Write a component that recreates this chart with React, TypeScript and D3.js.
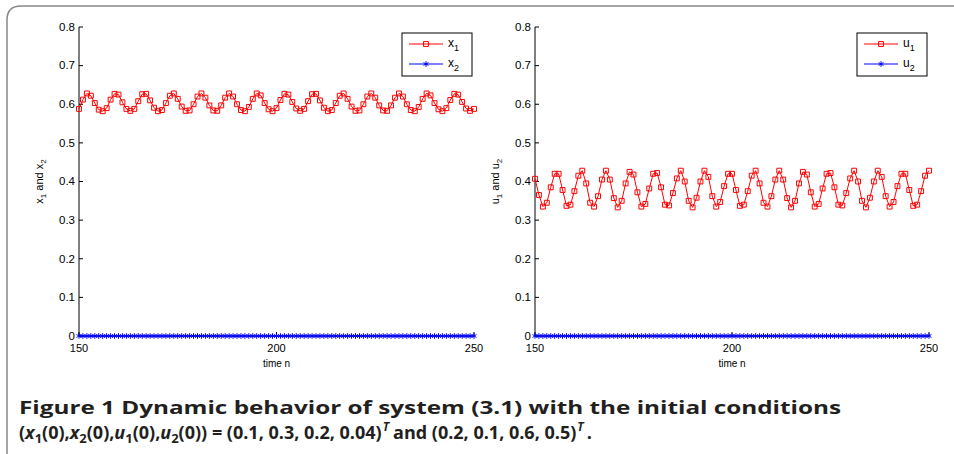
import React from 'react'
import * as d3 from 'd3'

// time n = 150 ... 250
const timeSteps = Array.from({ length: 101 }, (_, i) => 150 + i)

const x1Values = [
  0.588, 0.612, 0.628, 0.622, 0.603, 0.586, 0.582, 0.590, 0.612, 0.627,
  0.625, 0.605, 0.588, 0.583, 0.588, 0.608, 0.626, 0.627, 0.610, 0.591,
  0.582, 0.585, 0.603, 0.622, 0.628, 0.614, 0.594, 0.583, 0.584, 0.600,
  0.620, 0.628, 0.617, 0.597, 0.584, 0.583, 0.597, 0.617, 0.628, 0.620,
  0.600, 0.585, 0.582, 0.593, 0.614, 0.628, 0.623, 0.603, 0.587, 0.582,
  0.590, 0.611, 0.627, 0.625, 0.606, 0.589, 0.583, 0.588, 0.608, 0.626,
  0.627, 0.610, 0.591, 0.582, 0.585, 0.603, 0.622, 0.628, 0.614, 0.594,
  0.583, 0.584, 0.600, 0.620, 0.628, 0.617, 0.597, 0.584, 0.583, 0.597,
  0.617, 0.628, 0.620, 0.600, 0.585, 0.582, 0.593, 0.614, 0.628, 0.623,
  0.603, 0.587, 0.582, 0.590, 0.611, 0.627, 0.625, 0.606, 0.589, 0.583,
  0.588,
]

const x2Values = [
  0, 0, 0, 0, 0, 0, 0, 0, 0, 0, 0, 0, 0, 0, 0, 0, 0, 0, 0, 0,
  0, 0, 0, 0, 0, 0, 0, 0, 0, 0, 0, 0, 0, 0, 0, 0, 0, 0, 0, 0,
  0, 0, 0, 0, 0, 0, 0, 0, 0, 0, 0, 0, 0, 0, 0, 0, 0, 0, 0, 0,
  0, 0, 0, 0, 0, 0, 0, 0, 0, 0, 0, 0, 0, 0, 0, 0, 0, 0, 0, 0,
  0, 0, 0, 0, 0, 0, 0, 0, 0, 0, 0, 0, 0, 0, 0, 0, 0, 0, 0, 0,
  0,
]

const u1Values = [
  0.407, 0.365, 0.335, 0.345, 0.385, 0.420, 0.420, 0.378, 0.337, 0.340,
  0.375, 0.415, 0.428, 0.395, 0.345, 0.335, 0.362, 0.405, 0.428, 0.405,
  0.357, 0.333, 0.350, 0.395, 0.425, 0.418, 0.372, 0.335, 0.342, 0.382,
  0.420, 0.422, 0.385, 0.340, 0.338, 0.370, 0.408, 0.428, 0.400, 0.350,
  0.333, 0.358, 0.400, 0.428, 0.412, 0.362, 0.335, 0.347, 0.388, 0.420,
  0.420, 0.378, 0.337, 0.340, 0.375, 0.415, 0.428, 0.395, 0.345, 0.335,
  0.362, 0.405, 0.428, 0.405, 0.357, 0.333, 0.350, 0.395, 0.425, 0.418,
  0.372, 0.335, 0.342, 0.382, 0.420, 0.422, 0.385, 0.340, 0.338, 0.370,
  0.408, 0.428, 0.400, 0.350, 0.333, 0.358, 0.400, 0.428, 0.412, 0.362,
  0.335, 0.347, 0.388, 0.420, 0.420, 0.378, 0.337, 0.340, 0.375, 0.415,
  0.428,
]

const u2Values = [
  0, 0, 0, 0, 0, 0, 0, 0, 0, 0, 0, 0, 0, 0, 0, 0, 0, 0, 0, 0,
  0, 0, 0, 0, 0, 0, 0, 0, 0, 0, 0, 0, 0, 0, 0, 0, 0, 0, 0, 0,
  0, 0, 0, 0, 0, 0, 0, 0, 0, 0, 0, 0, 0, 0, 0, 0, 0, 0, 0, 0,
  0, 0, 0, 0, 0, 0, 0, 0, 0, 0, 0, 0, 0, 0, 0, 0, 0, 0, 0, 0,
  0, 0, 0, 0, 0, 0, 0, 0, 0, 0, 0, 0, 0, 0, 0, 0, 0, 0, 0, 0,
  0,
]

const yTicks = [0, 0.1, 0.2, 0.3, 0.4, 0.5, 0.6, 0.7, 0.8]
const xTicks = [150, 200, 250]

const axisFont = '"Liberation Sans", Arial, sans-serif'
const RED = '#ff0000'
const BLUE = '#0000ff'

const squarePath = d3.symbol().type(d3.symbolSquare).size(24)()
const starPath = d3.symbol().type(d3.symbolAsterisk).size(22)()

function Panel({ x0, x1, s1, s2, v }: { x0: number, x1: number, s1: number[], s2: number[], v: string }) {
  const xs = d3.scaleLinear().domain([150, 250]).range([x0, x1])
  const ys = d3.scaleLinear().domain([0, 0.8]).range([336, 27])
  const line = d3.line<number>().x((_, i) => xs(timeSteps[i])).y(d => ys(d))
  const legX = x1 - 72
  return (
    <g fontFamily={axisFont}>
      {/* axes */}
      <line x1={x0} x2={x0} y1={ys(0.8)} y2={ys(0)} stroke="#000" strokeWidth={1} />
      <line x1={x0} x2={x1} y1={ys(0)} y2={ys(0)} stroke="#000" strokeWidth={1} />
      {yTicks.map(t => (
        <g key={t}>
          <line x1={x0} x2={x0 + 4} y1={ys(t)} y2={ys(t)} stroke="#000" />
          <text x={x0 - 4} y={ys(t)} dy="0.33em" textAnchor="end" fontSize={11.5}>{t}</text>
        </g>
      ))}
      {xTicks.map(t => (
        <g key={t}>
          <line x1={xs(t)} x2={xs(t)} y1={ys(0)} y2={ys(0) - 4} stroke="#000" />
          <text x={xs(t)} y={ys(0) + 16} textAnchor="middle" fontSize={11}>{t}</text>
        </g>
      ))}
      <text x={(x0 + x1) / 2} y={367} textAnchor="middle" fontSize={10}>time n</text>
      <text transform={`translate(${x0 - 36},${ys(0.4)}) rotate(-90)`} textAnchor="middle" fontSize={11}>
        {v}<tspan dy={3} fontSize={8}>1</tspan><tspan dy={-3}> and {v}</tspan><tspan dy={3} fontSize={8}>2</tspan>
      </text>

      {/* series */}
      <path d={line(s1) || ''} fill="none" stroke={RED} strokeWidth={1} />
      {s1.map((d, i) => (
        <path key={i} d={squarePath || ''} transform={`translate(${xs(timeSteps[i])},${ys(d)})`} fill="none" stroke={RED} strokeWidth={1} />
      ))}
      <path d={line(s2) || ''} fill="none" stroke={BLUE} strokeWidth={1} />
      {s2.map((d, i) => (
        <path key={i} d={starPath || ''} transform={`translate(${xs(timeSteps[i])},${ys(d)})`} fill="none" stroke={BLUE} strokeWidth={1} />
      ))}

      {/* legend */}
      <rect x={legX} y={33} width={x1 - legX - 2} height={43} fill="#fff" stroke="#000" strokeWidth={1} />
      <line x1={legX + 7} x2={legX + 41} y1={44} y2={44} stroke={RED} />
      <path d={squarePath || ''} transform={`translate(${legX + 24},44)`} fill="none" stroke={RED} />
      <line x1={legX + 7} x2={legX + 41} y1={64} y2={64} stroke={BLUE} />
      <path d={starPath || ''} transform={`translate(${legX + 24},64)`} fill="none" stroke={BLUE} />
      <text x={legX + 46} y={47} fontSize={12}>{v}<tspan dy={4} fontSize={9}>1</tspan></text>
      <text x={legX + 46} y={67} fontSize={12}>{v}<tspan dy={4} fontSize={9}>2</tspan></text>
    </g>
  )
}

export default function App() {
  const capFont = '"Open Sans", "Noto Sans", sans-serif'
  return (
    <svg width={954} height={454} style={{ position: 'absolute', left: 0, top: 0, background: '#fff' }}>
      <path d="M7,454 L7,20 Q7,6 21,6 L954,6" fill="none" stroke="#888" strokeWidth={1.5} />
      <Panel x0={79} x1={474} s1={x1Values} s2={x2Values} v="x" />
      <Panel x0={535} x1={929} s1={u1Values} s2={u2Values} v="u" />
      <g fontFamily={capFont} fontWeight="bold" fontSize={18} fill="#231f20">
        <text x={19} y={414} textLength={822} lengthAdjust="spacingAndGlyphs">
          Figure 1  Dynamic behavior of system (3.1) with the initial conditions
        </text>
        <text x={19} y={439}>
          (<tspan fontStyle="italic">x</tspan><tspan fontSize={13} dy={4}>1</tspan><tspan dy={-4}>(0),</tspan>
          <tspan fontStyle="italic">x</tspan><tspan fontSize={13} dy={4}>2</tspan><tspan dy={-4}>(0),</tspan>
          <tspan fontStyle="italic">u</tspan><tspan fontSize={13} dy={4}>1</tspan><tspan dy={-4}>(0),</tspan>
          <tspan fontStyle="italic">u</tspan><tspan fontSize={13} dy={4}>2</tspan><tspan dy={-4}>(0)) = (0.1, 0.3, 0.2, 0.04)</tspan>
          <tspan fontStyle="italic" fontSize={12} dx={1} dy={-8}>T</tspan><tspan dx={4} dy={8}>and (0.2, 0.1, 0.6, 0.5)</tspan>
          <tspan fontStyle="italic" fontSize={12} dx={1} dy={-8}>T</tspan><tspan dx={3} dy={8}>.</tspan>
        </text>
      </g>
    </svg>
  )
}
